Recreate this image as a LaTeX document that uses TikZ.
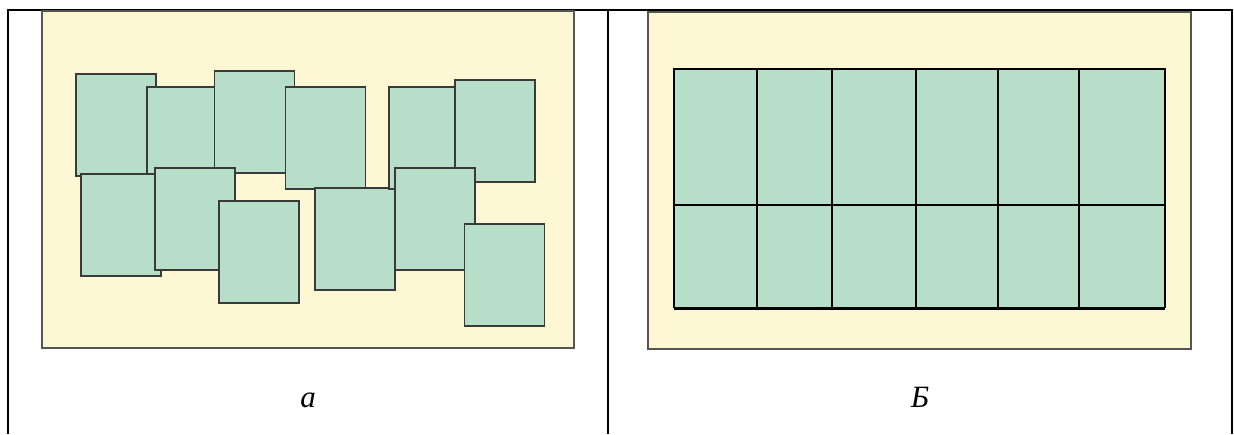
\documentclass[tikz,border=0pt]{standalone}
\usepackage{fontspec}
\setmainfont{Liberation Serif}
\definecolor{cardgreen}{HTML}{B7DEC8}
\definecolor{cardedge}{HTML}{3A3A3A}
\definecolor{sheet}{HTML}{FDF8D3}
\definecolor{sheetedge}{HTML}{555555}
\tikzset{
	card/.style={fill=cardgreen, draw=cardedge, line width=0.75pt},
	sheetbox/.style={fill=sheet, draw=sheetedge, line width=0.8pt},
	rule/.style={line width=0.8pt, black},
	caption/.style={font=\fontsize{15.5}{18}\selectfont\itshape, anchor=base, inner sep=0pt}
}
\begin{document}
\begin{tikzpicture}[x=0.5pt, y=-0.5pt]
	\useasboundingbox (0,0) rectangle (1234,434);
	% table frame
	\draw[rule] (8,434) -- (8,10) -- (1232,10) -- (1232,434);
	\draw[rule] (608,10) -- (608,434);
	% a: scattered sheets
	\draw[sheetbox] (42,11) rectangle (574,348);
	\foreach \x/\y in {76/74, 147/87, 214.6/71, 285.4/87, 81/174, 155/168,
		219/201, 315/188, 389/87, 455/80, 395/168, 464.4/224} {
		\draw[card] (\x,\y) rectangle ++(80,102);
	}
	% b: sheets packed in a grid
	\draw[sheetbox] (648,12) rectangle (1191,349);
	\fill[cardgreen] (674,69) rectangle (1165,308);
	\foreach \x in {757, 916, 1079} {
		\draw[line width=0.6pt] (\x,69) -- (\x,308);
	}
	\foreach \x in {832, 998} {
		\draw[line width=1.2pt] (\x,69) -- (\x,308);
	}
	\draw[line width=0.6pt] (674,205) -- (1165,205);
	\draw[line width=0.6pt] (674,308) -- (674,69) -- (1165,69) -- (1165,308);
	\draw[line width=1.5pt] (674,308) -- (1165,308);
	% captions
	\node[caption] (lbla) at (308,407) {а};
	\node[caption] (lblb) at (920,407) {Б};
\end{tikzpicture}
\end{document}
